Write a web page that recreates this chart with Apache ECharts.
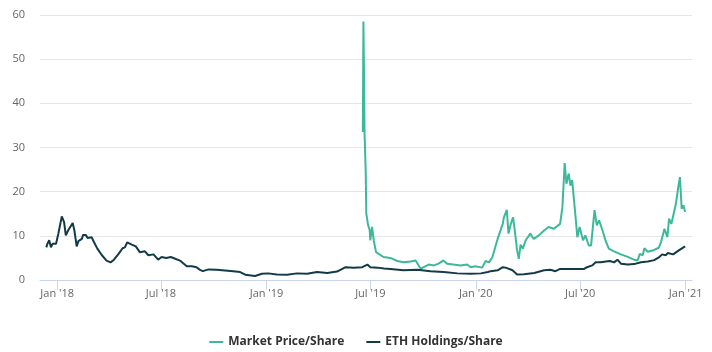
<!DOCTYPE html>
<html>
<head>
<meta charset="utf-8">
<script src="https://cdn.jsdelivr.net/npm/echarts@6/dist/echarts.min.js"></script>
<style>
  html, body { margin: 0; padding: 0; background: #fff; }
  #chart { width: 712px; height: 352px; }
</style>
</head>
<body>
<div id="chart"></div>
<script>
// ETH Holdings/Share
const ethDates = [
  '2017-12-13', '2017-12-15', '2017-12-18', '2017-12-21', '2017-12-24', '2017-12-30',
  '2018-01-03', '2018-01-09', '2018-01-13', '2018-01-16', '2018-01-20', '2018-01-23',
  '2018-01-28', '2018-01-31', '2018-02-04', '2018-02-07', '2018-02-13', '2018-02-15',
  '2018-02-20', '2018-02-23', '2018-03-02', '2018-03-06', '2018-03-12', '2018-03-20',
  '2018-03-28', '2018-04-04', '2018-04-10', '2018-04-18', '2018-04-25', '2018-04-29',
  '2018-05-03', '2018-05-11', '2018-05-18', '2018-05-25', '2018-06-03', '2018-06-09',
  '2018-06-18', '2018-06-26', '2018-07-02', '2018-07-10', '2018-07-18', '2018-07-26',
  '2018-08-03', '2018-08-15', '2018-08-24', '2018-09-01', '2018-09-07', '2018-09-12',
  '2018-09-22', '2018-10-06', '2018-11-04', '2018-11-16', '2018-11-25', '2018-12-12',
  '2018-12-24', '2019-01-04', '2019-01-19', '2019-02-06', '2019-02-23', '2019-03-13',
  '2019-03-30', '2019-04-17', '2019-05-04', '2019-05-19', '2019-06-02', '2019-06-17',
  '2019-06-26', '2019-07-01', '2019-07-14', '2019-07-25', '2019-08-05', '2019-08-28',
  '2019-09-21', '2019-10-14', '2019-11-06', '2019-11-30', '2019-12-23', '2020-01-10',
  '2020-01-22', '2020-01-27', '2020-02-08', '2020-02-17', '2020-02-22', '2020-03-05',
  '2020-03-13', '2020-03-16', '2020-03-25', '2020-04-12', '2020-04-29', '2020-05-10',
  '2020-05-19', '2020-05-27', '2020-06-20', '2020-07-08', '2020-07-13', '2020-07-22',
  '2020-07-28', '2020-08-06', '2020-08-15', '2020-08-22', '2020-08-29', '2020-09-04',
  '2020-09-10', '2020-09-22', '2020-10-03', '2020-10-15', '2020-10-27', '2020-11-07',
  '2020-11-16', '2020-11-21', '2020-11-27', '2020-12-01', '2020-12-10', '2020-12-20',
  '2020-12-23', '2020-12-31'
];
const ethValues = [
  7.4, 8.2, 9.0, 7.4, 8.2, 8.2,
  10.5, 14.4, 13.1, 10.1, 11.2, 10.8,
  12.9, 11.2, 7.6, 8.8, 9.3, 10.2,
  10.2, 9.5, 9.7, 8.6, 7.1, 5.6,
  4.4, 4.0, 4.6, 5.9, 7.2, 7.4,
  8.5, 8.0, 7.6, 6.3, 6.5, 5.6,
  5.8, 4.6, 5.2, 5.0, 5.2, 4.8,
  4.4, 3.1, 3.1, 2.9, 2.3, 2.0,
  2.4, 2.3, 2.0, 1.8, 1.2, 0.9,
  1.4, 1.5, 1.25, 1.2, 1.5, 1.4,
  1.8, 1.6, 1.9, 2.9, 2.8, 2.9,
  3.5, 2.9, 2.8, 2.6, 2.5, 2.2,
  2.3, 2.0, 1.8, 1.5, 1.4, 1.5,
  1.8, 2.0, 2.2, 2.9, 2.8, 2.2,
  1.25, 1.0, 1.3, 1.6, 2.2, 2.3,
  2.0, 2.5, 2.5, 2.5, 2.9, 3.3,
  4.0, 4.0, 4.2, 4.3, 4.0, 4.6,
  3.7, 3.5, 3.6, 4.0, 4.2, 4.5,
  5.2, 5.8, 5.6, 6.1, 5.8, 6.7,
  6.3, 7.6
];

// Market Price/Share
const priceDates = [
  '2019-06-18', '2019-06-19', '2019-06-20', '2019-06-21', '2019-06-23', '2019-06-24',
  '2019-06-27', '2019-06-30', '2019-07-01', '2019-07-04', '2019-07-07', '2019-07-11',
  '2019-07-24', '2019-08-05', '2019-08-17', '2019-08-28', '2019-09-09', '2019-09-18',
  '2019-09-27', '2019-10-02', '2019-10-11', '2019-10-20', '2019-10-28', '2019-11-05',
  '2019-11-12', '2019-11-23', '2019-12-05', '2019-12-17', '2019-12-23', '2019-12-31',
  '2020-01-12', '2020-01-18', '2020-01-24', '2020-01-30', '2020-02-08', '2020-02-17',
  '2020-02-19', '2020-02-24', '2020-02-27', '2020-03-02', '2020-03-06', '2020-03-09',
  '2020-03-13', '2020-03-16', '2020-03-19', '2020-03-23', '2020-03-28', '2020-04-05',
  '2020-04-11', '2020-04-20', '2020-04-29', '2020-05-07', '2020-05-16', '2020-05-27',
  '2020-05-31', '2020-06-04', '2020-06-07', '2020-06-11', '2020-06-14', '2020-06-17',
  '2020-06-23', '2020-06-26', '2020-06-30', '2020-07-06', '2020-07-10', '2020-07-16',
  '2020-07-20', '2020-07-26', '2020-07-30', '2020-08-03', '2020-08-09', '2020-08-14',
  '2020-08-20', '2020-08-29', '2020-09-10', '2020-09-21', '2020-10-03', '2020-10-09',
  '2020-10-13', '2020-10-18', '2020-10-21', '2020-10-27', '2020-11-07', '2020-11-15',
  '2020-11-19', '2020-11-25', '2020-11-30', '2020-12-03', '2020-12-07', '2020-12-11',
  '2020-12-15', '2020-12-19', '2020-12-22', '2020-12-25', '2020-12-28', '2020-12-31'
];
const priceValues = [
  33.5, 58.5, 47, 33.2, 24.6, 15.1,
  12.5, 11.2, 9.0, 12.0, 9.0, 6.3,
  5.2, 5.0, 4.3, 4.0, 4.2, 4.4,
  2.5, 2.9, 3.5, 3.3, 3.7, 4.4,
  3.7, 3.5, 3.3, 3.5, 2.9, 3.1,
  2.8, 4.3, 4.0, 5.2, 9.3, 12.7,
  14.2, 15.9, 10.5, 12.7, 14.2, 11.2,
  6.7, 4.8, 8.0, 7.1, 9.0, 10.5,
  9.3, 10.1, 11.2, 12.0, 11.6, 12.7,
  16.5, 26.5, 21.8, 24.1, 21.4, 22.6,
  14.2, 9.7, 12.0, 9.0, 10.1, 7.8,
  7.8, 15.8, 12.4, 13.5, 11.2, 9.0,
  7.1, 6.5, 5.8, 5.3, 4.6, 4.4,
  5.9, 5.6, 7.2, 6.4, 6.8, 7.3,
  8.6, 11.6, 9.7, 13.9, 12.7, 15.0,
  17.3, 21.0, 23.3, 16.1, 16.9, 15.4
];

const tickDates = ['2018-01-01', '2018-07-01', '2019-01-01', '2019-07-01', '2020-01-01', '2020-07-01', '2021-01-01'];
const tickLabels = ["Jan '18", "Jul '18", "Jan '19", "Jul '19", "Jan '20", "Jul '20", "Jan '21"];

const toTime = s => {
  const [y, m, d] = s.split('-').map(Number);
  return Date.UTC(y, m - 1, d);
};
const tickTimes = tickDates.map(toTime);

const chart = echarts.init(document.getElementById('chart'));
chart.setOption({
  animation: false,
  textStyle: { fontFamily: 'Open Sans' },
  grid: { left: 40, right: 20, top: 15, bottom: 72 },
  legend: {
    top: 331,
    left: 'center',
    icon: 'rect',
    itemWidth: 14,
    itemHeight: 2,
    itemGap: 22,
    textStyle: { fontSize: 12, fontWeight: 'bold', color: '#333', fontFamily: 'Open Sans' },
    data: ['Market Price/Share', 'ETH Holdings/Share']
  },
  xAxis: {
    type: 'value',
    min: toTime('2017-12-02'),
    max: toTime('2021-01-12'),
    axisLine: { lineStyle: { color: '#ccd6eb' } },
    axisTick: { length: 10, lineStyle: { color: '#ccd6eb' }, customValues: tickTimes },
    axisLabel: {
      customValues: tickTimes,
      color: '#666',
      fontSize: 11,
      margin: 8,
      formatter: v => tickLabels[tickTimes.indexOf(v)] || ''
    },
    splitLine: { show: false }
  },
  yAxis: {
    type: 'value',
    min: 0,
    max: 60,
    interval: 10,
    axisLabel: { color: '#666', fontSize: 11, margin: 15 },
    axisLine: { show: false },
    axisTick: { show: false },
    splitLine: { lineStyle: { color: '#e6e6e6' } }
  },
  series: [
    {
      name: 'Market Price/Share',
      type: 'line',
      showSymbol: false,
      color: '#3cb99a',
      lineStyle: { width: 2, color: '#3cb99a' },
      data: priceDates.map((d, i) => [toTime(d), priceValues[i]])
    },
    {
      name: 'ETH Holdings/Share',
      type: 'line',
      showSymbol: false,
      color: '#123b47',
      lineStyle: { width: 2, color: '#123b47' },
      data: ethDates.map((d, i) => [toTime(d), ethValues[i]])
    }
  ]
});
</script>
</body>
</html>
